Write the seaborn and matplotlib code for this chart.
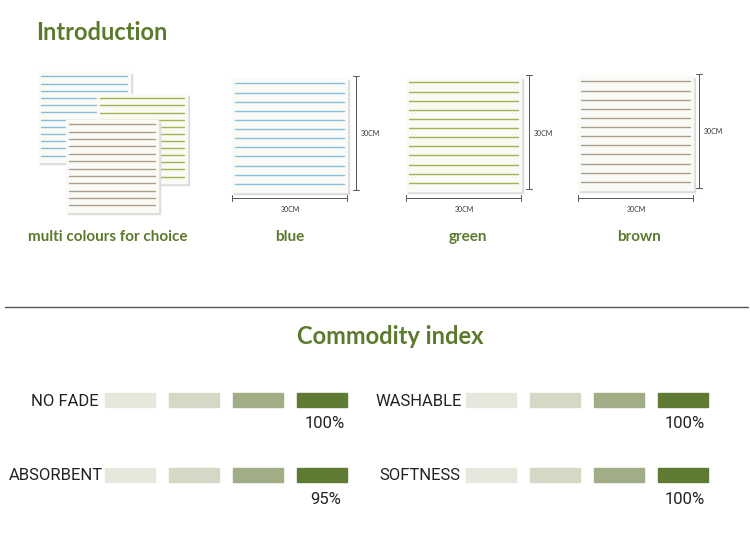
import matplotlib
matplotlib.use("Agg")
import matplotlib.pyplot as plt
import seaborn as sns
from matplotlib.patches import Rectangle

sns.set_theme(style="white")
plt.rcParams['font.family'] = ['Lato', 'DejaVu Sans']
narrow = ['Roboto', 'DejaVu Sans']

# ---- data ----
towel_names = ['multi colours for choice', 'blue', 'green', 'brown']
stripe_colors = {'blue': '#86bedb', 'green': '#a3b650', 'brown': '#ab9f8c'}
n_stripes = 12
size_label = '30CM'

metrics = ['NO FADE', 'WASHABLE', 'ABSORBENT', 'SOFTNESS']
metric_values = ['100%', '100%', '95%', '100%']
level_colors = ['#e6e8dc', '#d3d9c5', '#a1ad84', '#5f7a32']

green = '#5b7a2c'

fig = plt.figure(figsize=(7.5, 5.36), dpi=100)
ax = fig.add_axes([0, 0, 1, 1])
ax.set_xlim(0, 750)
ax.set_ylim(536, 0)
ax.axis('off')


def towel(x0, y0, w, h, color, z=1):
    ax.add_patch(Rectangle((x0 + 1.5, y0 + 1.5), w, h, color='#dcdcdc', zorder=z))
    ax.add_patch(Rectangle((x0, y0), w, h, color='#fafaf6', zorder=z + 0.1))
    gap = h / (n_stripes + 0.5)
    for i in range(n_stripes):
        y = y0 + gap * (i + 0.6)
        ax.plot([x0 + 3, x0 + w - 3], [y, y], color=color, lw=1.0, zorder=z + 0.2)


ax.text(36, 33, 'Introduction', color=green, fontsize=17, fontweight='bold', va='center')

# multi colour stack
towel(38, 72, 92, 90, stripe_colors['blue'], 1)
towel(97, 94, 90, 89, stripe_colors['green'], 2)
towel(66, 120, 92, 92, stripe_colors['brown'], 3)

singles = [('blue', 232, 78, 356, 198), ('green', 406, 77, 529, 198), ('brown', 578, 76, 699, 198)]
for name, x0, y0, vx, hy in singles:
    towel(x0, y0, 115, 114, stripe_colors[name], 1)
    ax.plot([vx, vx], [y0 - 2, y0 + 112], color='#555555', lw=0.7)
    ax.plot([vx - 3, vx + 3], [y0 - 2, y0 - 2], color='#555555', lw=0.7)
    ax.plot([vx - 3, vx + 3], [y0 + 112, y0 + 112], color='#555555', lw=0.7)
    ax.text(vx + 14, y0 + 56, size_label, fontsize=5, ha='center', va='center', color='#333333')
    ax.plot([x0, x0 + 115], [hy, hy], color='#555555', lw=0.7)
    ax.plot([x0, x0], [hy - 3, hy + 3], color='#555555', lw=0.7)
    ax.plot([x0 + 115, x0 + 115], [hy - 3, hy + 3], color='#555555', lw=0.7)
    ax.text(x0 + 58, hy + 11, size_label, fontsize=5, ha='center', va='center', color='#333333')

for name, cx in zip(towel_names, [108, 290, 468, 639]):
    ax.text(cx, 237, name, color=green, fontsize=11, fontweight='bold', ha='center', va='center')

ax.plot([5, 748], [307, 307], color='#555555', lw=1)
ax.text(390, 336, 'Commodity index', color=green, fontsize=17, fontweight='bold', ha='center', va='center')

# index bars
layout = [(99, 105, 400, 345), (462, 466, 400, 705), (103, 105, 475, 341), (460, 466, 475, 705)]
for (lab_x, bx, by, px), label, val in zip(layout, metrics, metric_values):
    ax.text(lab_x, by + 1, label, fontsize=12, ha='right', va='center', color='#222222', family=narrow)
    for i, c in enumerate(level_colors):
        ax.add_patch(Rectangle((bx + i * 64, by - 7), 50, 14, color=c))
    ax.text(px, by + 24, val, fontsize=12, ha='right', va='center', color='#222222', family=narrow)

fig.savefig('out.png', dpi=100)
